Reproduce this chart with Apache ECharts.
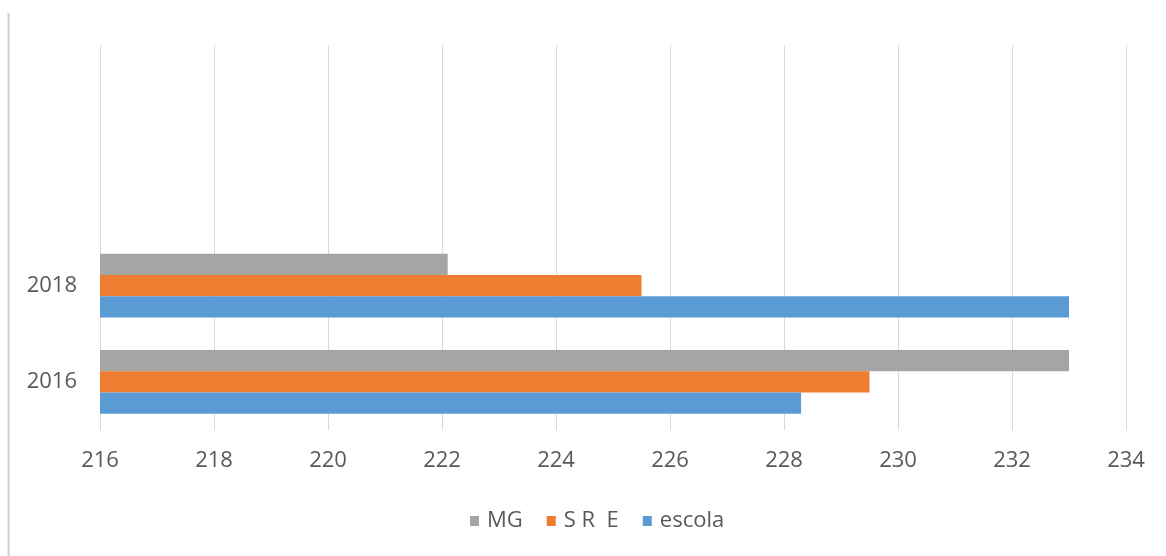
<!DOCTYPE html>
<html>
<head>
<meta charset="utf-8">
<script src="https://cdn.jsdelivr.net/npm/echarts@6/dist/echarts.min.js"></script>
<style>
html,body{margin:0;padding:0;background:#fff;}
#c{width:1166px;height:556px;}
</style>
</head>
<body>
<div id="c"></div>
<script>
const categories = ['2016', '2018', '', ''];
const seriesNames = ['MG', 'S R  E', 'escola'];
const mgValues = [233.0, 222.1, null, null];
const sreValues = [229.5, 225.5, null, null];
const escolaValues = [228.3, 233.0, null, null];
const xTicks = [216, 218, 220, 222, 224, 226, 228, 230, 232, 234];

const chart = echarts.init(document.getElementById('c'));
const font = '"Open Sans", Lato, sans-serif';
chart.setOption({
  animation: false,
  textStyle: { fontFamily: font },
  graphic: [{
    type: 'line',
    shape: { x1: 8.5, y1: 13, x2: 8.5, y2: 556 },
    style: { stroke: '#d0d0d0', lineWidth: 2 }
  }],
  grid: { left: 100, right: 40, top: 45, bottom: 126, containLabel: false },
  legend: {
    data: [seriesNames[0], seriesNames[1], seriesNames[2]],
    top: 505,
    left: 465,
    itemWidth: 9,
    itemHeight: 10,
    itemGap: 24,
    icon: 'rect',
    textStyle: { color: '#595959', fontSize: 22, fontFamily: font, padding: [0, 0, 0, 3] }
  },
  xAxis: {
    type: 'value',
    min: xTicks[0],
    max: xTicks[xTicks.length - 1],
    interval: 2,
    axisLine: { show: false },
    axisTick: { show: false },
    splitLine: { show: true, lineStyle: { color: '#d9d9d9', width: 1 } },
    axisLabel: { color: '#595959', fontSize: 22, margin: 20, fontFamily: font }
  },
  yAxis: {
    type: 'category',
    data: categories,
    axisLine: { show: false },
    axisTick: { show: false },
    splitLine: { show: false },
    axisLabel: { color: '#595959', fontSize: 22, margin: 23, fontFamily: font }
  },
  series: [
    { name: seriesNames[0], type: 'bar', data: mgValues, itemStyle: { color: '#A5A5A5' }, barGap: '0%', barCategoryGap: '34%' },
    { name: seriesNames[1], type: 'bar', data: sreValues, itemStyle: { color: '#ED7D31' }, barGap: '0%', barCategoryGap: '34%' },
    { name: seriesNames[2], type: 'bar', data: escolaValues, itemStyle: { color: '#5B9BD5' }, barGap: '0%', barCategoryGap: '34%' }
  ]
});
</script>
</body>
</html>
